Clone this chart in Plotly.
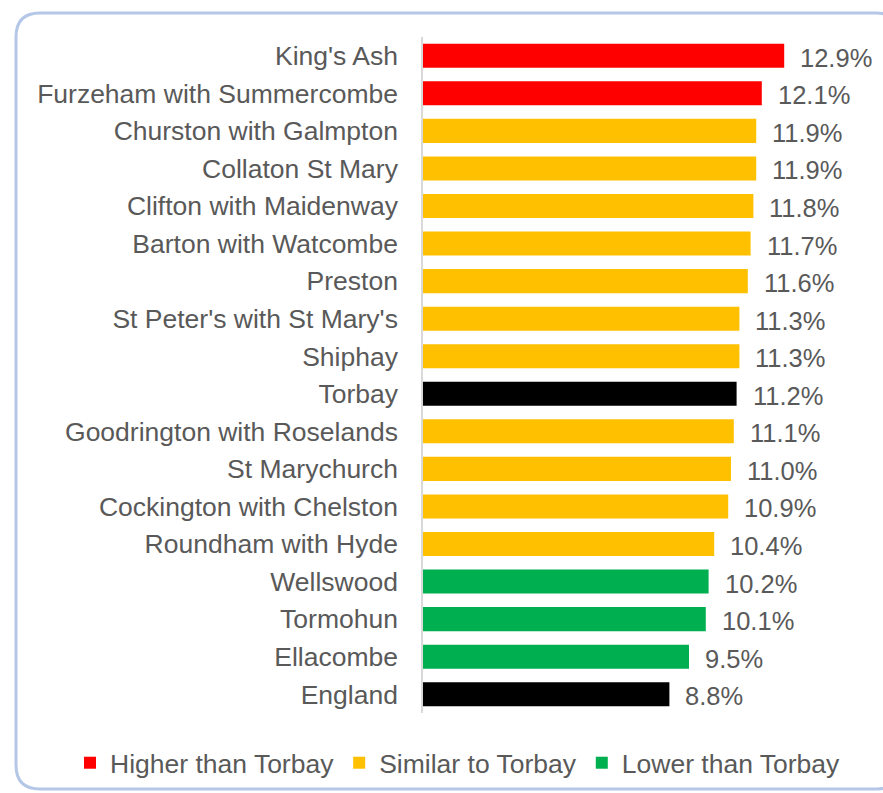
import plotly.graph_objects as go

# Ward names (top to bottom) and percentages
areas = ["King's Ash", "Furzeham with Summercombe", "Churston with Galmpton",
         "Collaton St Mary", "Clifton with Maidenway", "Barton with Watcombe",
         "Preston", "St Peter's with St Mary's", "Shiphay", "Torbay",
         "Goodrington with Roselands", "St Marychurch", "Cockington with Chelston",
         "Roundham with Hyde", "Wellswood", "Tormohun", "Ellacombe", "England"]
values = [12.9, 12.1, 11.9, 11.9, 11.8, 11.7, 11.6, 11.3, 11.3, 11.2,
          11.1, 11.0, 10.9, 10.4, 10.2, 10.1, 9.5, 8.8]
groups = ["Higher", "Higher", "Similar", "Similar", "Similar", "Similar",
          "Similar", "Similar", "Similar", "Benchmark",
          "Similar", "Similar", "Similar", "Similar", "Lower", "Lower", "Lower",
          "Benchmark"]

group_style = {
    "Higher": ("Higher than Torbay", "#FF0000", True),
    "Similar": ("Similar to Torbay", "#FFC000", True),
    "Lower": ("Lower than Torbay", "#00B050", True),
    "Benchmark": ("Benchmark", "#000000", False),
}

FONT = "Liberation Sans, Arial, sans-serif"
GREY = "#595959"

W, H = 883, 793
L, R, T, B = 423, 12, 37, 80
XMAX = 16.0

fig = go.Figure()
for key in ["Higher", "Similar", "Lower", "Benchmark"]:
    name, color, show = group_style[key]
    ys = [a for a, g in zip(areas, groups) if g == key]
    xs = [v for v, g in zip(values, groups) if g == key]
    fig.add_trace(go.Bar(
        x=xs, y=ys, orientation="h", name=name,
        marker=dict(color=color, line=dict(width=0)),
        showlegend=show, hoverinfo="skip",
    ))

# value labels to the right of each bar
for a, v in zip(areas, values):
    fig.add_annotation(x=v, y=a, text=f"{v:.1f}%", showarrow=False,
                       xanchor="left", yanchor="middle", xshift=14, yshift=-2,
                       font=dict(family=FONT, size=25.5, color=GREY))

# rounded panel border (pixel positions converted to paper coordinates)
pw, ph = W - L - R, H - T - B
def px(X):
    return (X - L) / pw
def py(Y):
    return (H - B - Y) / ph

x0, x1, y0, y1, r = 16, 900, 13, 789, 24
path = (f"M{px(x0)},{py(y0 + r)} "
        f"Q{px(x0)},{py(y0)} {px(x0 + r)},{py(y0)} "
        f"L{px(x1 - r)},{py(y0)} "
        f"Q{px(x1)},{py(y0)} {px(x1)},{py(y0 + r)} "
        f"L{px(x1)},{py(y1 - r)} "
        f"Q{px(x1)},{py(y1)} {px(x1 - r)},{py(y1)} "
        f"L{px(x0 + r)},{py(y1)} "
        f"Q{px(x0)},{py(y1)} {px(x0)},{py(y1 - r)} Z")
fig.add_shape(type="path", path=path, xref="paper", yref="paper",
              line=dict(color="#B4C7E7", width=3), layer="below")

fig.update_layout(
    width=W, height=H,
    margin=dict(l=L, r=R, t=T, b=B, pad=0, autoexpand=False),
    paper_bgcolor="white", plot_bgcolor="white",
    barmode="overlay", bargap=0.36,
    font=dict(family=FONT, size=25, color=GREY),
    xaxis=dict(range=[0, XMAX], visible=False, fixedrange=True),
    yaxis=dict(categoryorder="array", categoryarray=areas, autorange="reversed",
               showline=True, linecolor="#D9D9D9", linewidth=1.5,
               showgrid=False, ticks="", ticklabelstandoff=18,
               tickfont=dict(family=FONT, size=26.5, color=GREY), fixedrange=True),
    legend=dict(orientation="h", xref="paper", yref="paper",
                x=px(70), y=py(763), xanchor="left", yanchor="middle",
                font=dict(family=FONT, size=26.5, color=GREY),
                itemclick=False, bgcolor="rgba(0,0,0,0)", traceorder="normal"),
    showlegend=True,
)

fig.write_html("out.html")
